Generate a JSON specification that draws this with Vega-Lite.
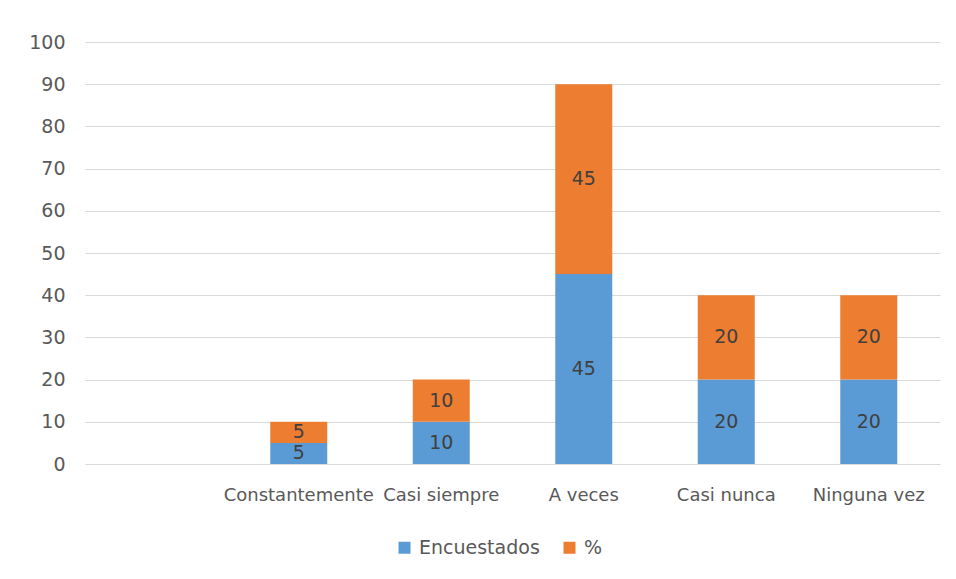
{
  "$schema": "https://vega.github.io/schema/vega-lite/v6.json",
  "width": 855,
  "height": 422,
  "autosize": {"type": "none"},
  "padding": {"left": 85, "top": 42, "right": 16, "bottom": 115},
  "background": "white",
  "config": {
    "view": {"stroke": null},
    "font": "DejaVu Sans",
    "axis": {"labelFont": "DejaVu Sans", "labelColor": "#595959", "labelFontSize": 18},
    "legend": {"labelFont": "DejaVu Sans", "labelColor": "#595959", "labelFontSize": 19}
  },
  "data": {
    "values": [
      {"cat": "Constantemente", "series": "Encuestados", "ord": 1, "value": 5},
      {"cat": "Constantemente", "series": "%", "ord": 2, "value": 5},
      {"cat": "Casi siempre", "series": "Encuestados", "ord": 1, "value": 10},
      {"cat": "Casi siempre", "series": "%", "ord": 2, "value": 10},
      {"cat": "A veces", "series": "Encuestados", "ord": 1, "value": 45},
      {"cat": "A veces", "series": "%", "ord": 2, "value": 45},
      {"cat": "Casi nunca", "series": "Encuestados", "ord": 1, "value": 20},
      {"cat": "Casi nunca", "series": "%", "ord": 2, "value": 20},
      {"cat": "Ninguna vez", "series": "Encuestados", "ord": 1, "value": 20},
      {"cat": "Ninguna vez", "series": "%", "ord": 2, "value": 20}
    ]
  },
  "encoding": {
    "x": {
      "field": "cat",
      "type": "nominal",
      "sort": null,
      "scale": {"domain": [" ", "Constantemente", "Casi siempre", "A veces", "Casi nunca", "Ninguna vez"], "paddingInner": 0.6, "paddingOuter": 0.3},
      "axis": {"title": null, "labelAngle": 0, "domain": false, "ticks": false, "labelPadding": 22, "labelOverlap": false, "labelLimit": 0}
    }
  },
  "layer": [
    {
      "mark": {"type": "bar"},
      "encoding": {
        "y": {
          "field": "value",
          "type": "quantitative",
          "stack": "zero",
          "scale": {"domain": [0, 100]},
          "axis": {"title": null, "values": [0,10,20,30,40,50,60,70,80,90,100], "domain": false, "ticks": false, "gridColor": "#D9D9D9", "labelPadding": 20, "labelFontSize": 19}
        },
        "color": {
          "field": "series",
          "type": "nominal",
          "scale": {"domain": ["Encuestados", "%"], "range": ["#5B9BD5", "#ED7D31"]},
          "legend": {"title": null, "orient": "none", "legendX": 310, "legendY": 496, "direction": "horizontal", "symbolType": "square", "symbolSize": 144, "symbolStrokeWidth": 0, "labelOffset": 5, "columnPadding": 20}
        },
        "order": {"field": "ord", "type": "quantitative"}
      }
    },
    {
      "mark": {"type": "text", "color": "#404040", "fontSize": 19, "baseline": "middle", "font": "DejaVu Sans"},
      "encoding": {
        "y": {"field": "value", "type": "quantitative", "stack": "zero", "bandPosition": 0.5},
        "detail": {"field": "series"},
        "order": {"field": "ord", "type": "quantitative"},
        "text": {"field": "value", "type": "quantitative"}
      }
    }
  ]
}
